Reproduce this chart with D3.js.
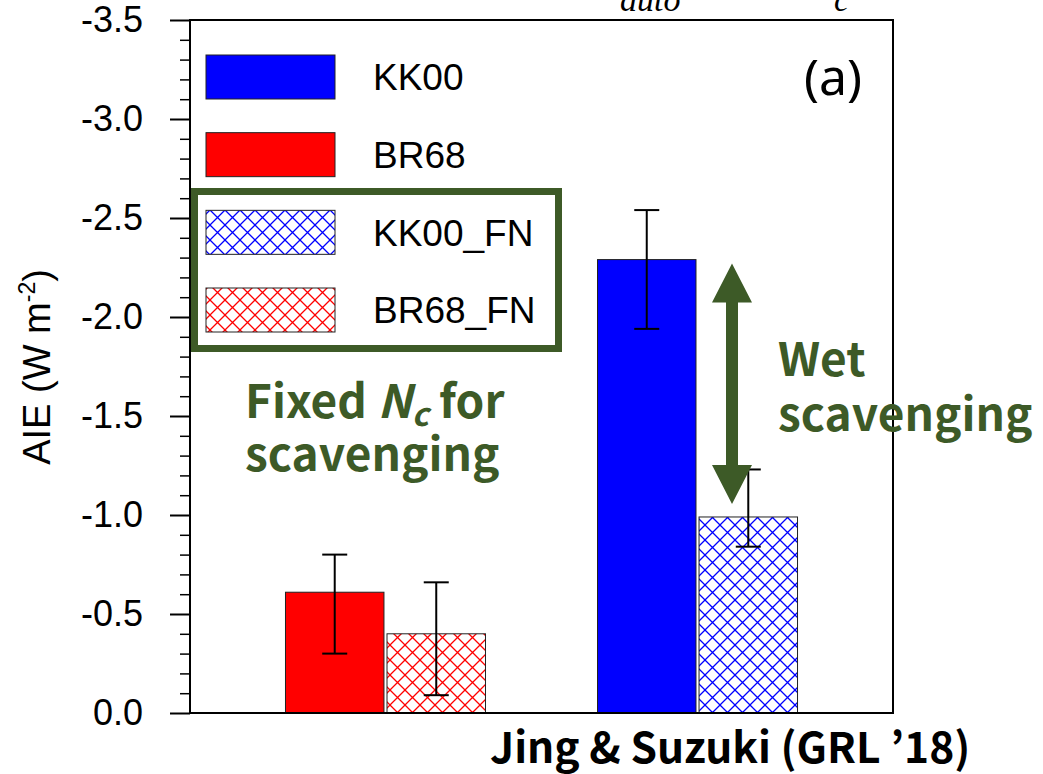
<!DOCTYPE html>
<html>
<head>
<meta charset="utf-8">
<script src="https://cdn.jsdelivr.net/npm/d3@7"></script>
<style>
  html, body { margin: 0; padding: 0; background: #fff; }
  svg { display: block; }
</style>
</head>
<body>
<svg id="chart" width="1043" height="774"></svg>
<script>
// Aerosol indirect effect, two schemes, with and without fixed Nc for scavenging
const groups = ["BR68", "KK00"];
const series = ["ctrl", "FN"];
const ctrlValues = [-0.61, -2.29];
const ctrlErrLow = [-0.30, -1.94];
const ctrlErrHigh = [-0.80, -2.54];
const fnValues = [-0.40, -0.99];
const fnErrLow = [-0.09, -0.84];
const fnErrHigh = [-0.66, -1.23];
const yTicks = [0, -0.5, -1.0, -1.5, -2.0, -2.5, -3.0, -3.5];
const legendNames = ["KK00", "BR68", "KK00_FN", "BR68_FN"];

const colors = { KK00: "#0000ff", BR68: "#ff0000" };
const green = "#3d5a27";

const svg = d3.select("#chart");
const plotL = 190, plotR = 893, plotT = 20, plotB = 713;

const y = d3.scaleLinear().domain([0, -3.5]).range([plotB, plotT]);
const x = d3.scaleBand().domain(groups).range([plotL, plotR])
  .paddingInner(0.359).paddingOuter(0.306);
const xs = d3.scaleBand().domain(series).range([0, x.bandwidth()]).paddingInner(0.03);

// cross-hatch patterns
const defs = svg.append("defs");
const hp = 15;
["KK00", "BR68"].forEach(k => {
  const p = defs.append("pattern").attr("id", "hatch-" + k)
    .attr("patternUnits", "userSpaceOnUse").attr("width", hp).attr("height", hp);
  p.append("rect").attr("width", hp).attr("height", hp).attr("fill", "#fff");
  const h = hp / 2;
  p.append("path").attr("d",
    `M0,0 L${hp},${hp} M${-h},${h} L${h},${hp + h} M${h},${-h} L${hp + h},${h}
     M0,${hp} L${hp},0 M${-h},${h} L${h},${-h} M${h},${hp + h} L${hp + h},${h}`)
    .attr("stroke", colors[k]).attr("stroke-width", 1.3).attr("fill", "none");
});

// partially visible heading above the frame
svg.append("text").attr("x", 620).attr("y", 11)
  .attr("font-family", "Liberation Serif").attr("font-style", "italic").attr("font-size", 34)
  .text("auto");
svg.append("text").attr("x", 834).attr("y", 11)
  .attr("font-family", "Liberation Serif").attr("font-style", "italic").attr("font-size", 34)
  .text("c");

// bars
const rows = [];
groups.forEach((g, i) => {
  rows.push({ g, s: "ctrl", v: ctrlValues[i], lo: ctrlErrLow[i], hi: ctrlErrHigh[i],
    fill: colors[g] });
  rows.push({ g, s: "FN", v: fnValues[i], lo: fnErrLow[i], hi: fnErrHigh[i],
    fill: "url(#hatch-" + g + ")" });
});

svg.append("g").selectAll("rect").data(rows).join("rect")
  .attr("x", d => x(d.g) + xs(d.s))
  .attr("y", d => y(d.v))
  .attr("width", xs.bandwidth())
  .attr("height", d => y(0) - y(d.v))
  .attr("fill", d => d.fill)
  .attr("stroke", "#222").attr("stroke-width", 1);

// error bars
const eb = svg.append("g").attr("stroke", "#000").attr("stroke-width", 2);
rows.forEach(d => {
  const cx = x(d.g) + xs(d.s) + xs.bandwidth() / 2;
  eb.append("line").attr("x1", cx).attr("x2", cx).attr("y1", y(d.hi)).attr("y2", y(d.lo));
  [d.hi, d.lo].forEach(v => eb.append("line")
    .attr("x1", cx - 12.5).attr("x2", cx + 12.5).attr("y1", y(v)).attr("y2", y(v)));
});

// axes and frame
const fmt = d => (Math.abs(d) < 1e-9 ? 0 : d).toFixed(1);
const yAxis = svg.append("g").attr("transform", `translate(${plotL},0)`)
  .call(d3.axisLeft(y).tickValues(yTicks).tickFormat(fmt).tickSize(20).tickPadding(27));
yAxis.select(".domain").remove();
yAxis.selectAll(".tick line").attr("stroke", "#000").attr("stroke-width", 2);
yAxis.selectAll(".tick text").attr("font-family", "Liberation Sans, Arial")
  .attr("font-size", 36).attr("fill", "#000");

const minor = d3.range(1, 35).map(i => -i / 10).filter(v => Math.round(v * 10) % 5 !== 0);
svg.append("g").attr("transform", `translate(${plotL},0)`)
  .call(d3.axisLeft(y).tickValues(minor).tickFormat("").tickSize(10))
  .call(g => g.select(".domain").remove())
  .selectAll("line").attr("stroke", "#000").attr("stroke-width", 1.5);

const frame = svg.append("g").attr("stroke", "#000").attr("stroke-width", 2).attr("fill", "none");
frame.append("path").attr("d", `M${plotL},${plotT} L${plotR},${plotT} L${plotR},${plotB} L${plotL},${plotB} Z`);

// y label
svg.append("text")
  .attr("transform", `translate(50,367) rotate(-90)`)
  .attr("text-anchor", "middle")
  .attr("font-family", "Liberation Sans, Arial").attr("font-size", 38)
  .call(t => {
    t.append("tspan").text("AIE (W m");
    t.append("tspan").attr("dy", -15).attr("font-size", 23).text("-2");
    t.append("tspan").attr("dy", 15).text(")");
  });

// legend
const legY = d3.scalePoint().domain(legendNames).range([77, 310]);
const legFill = { KK00: colors.KK00, BR68: colors.BR68,
  KK00_FN: "url(#hatch-KK00)", BR68_FN: "url(#hatch-BR68)" };
const leg = svg.append("g");
legendNames.forEach(n => {
  leg.append("rect").attr("x", 206).attr("y", legY(n) - 22).attr("width", 129).attr("height", 44)
    .attr("fill", legFill[n]).attr("stroke", "#222").attr("stroke-width", 1);
  leg.append("text").attr("x", 373).attr("y", legY(n)).attr("dy", "0.36em")
    .attr("font-family", "Liberation Sans, Arial").attr("font-size", 37).text(n);
});
leg.append("rect").attr("x", 194.5).attr("y", 191.5).attr("width", 364).attr("height", 157)
  .attr("fill", "none").attr("stroke", green).attr("stroke-width", 7);

// panel tag
svg.append("text").attr("x", 804).attr("y", 95)
  .attr("font-family", "Noto Sans").attr("font-size", 50).text("(a)");

// annotations
const jp = "Noto Sans CJK JP";
const a1 = svg.append("text").attr("font-family", jp).attr("font-weight", 700)
  .attr("font-size", 46).attr("fill", green);
a1.append("tspan").attr("x", 245).attr("y", 418).text("Fixed ");
a1.append("tspan").attr("font-style", "italic").text("N");
a1.append("tspan").attr("font-style", "italic").attr("font-size", 32).attr("dy", 8).text("c");
a1.append("tspan").attr("dy", -8).text(" for");
a1.append("tspan").attr("x", 245).attr("y", 471).text("scavenging");

const a2 = svg.append("text").attr("font-family", jp).attr("font-weight", 700)
  .attr("font-size", 46).attr("fill", green);
a2.append("tspan").attr("x", 778).attr("y", 376).text("Wet");
a2.append("tspan").attr("x", 778).attr("y", 431).text("scavenging");

// double-headed arrow between KK00 and KK00_FN
const ax = 732, ay1 = y(ctrlValues[1]) + 4, ay2 = y(fnValues[1]) - 13;
const hw = 20, hl = 39, sw = 6;
svg.append("path").attr("fill", green).attr("d",
  `M${ax},${ay1} L${ax + hw},${ay1 + hl} L${ax + sw},${ay1 + hl} L${ax + sw},${ay2 - hl}
   L${ax + hw},${ay2 - hl} L${ax},${ay2} L${ax - hw},${ay2 - hl} L${ax - sw},${ay2 - hl}
   L${ax - sw},${ay1 + hl} L${ax - hw},${ay1 + hl} Z`);

// citation
svg.append("text").attr("x", 490).attr("y", 763)
  .attr("font-family", jp).attr("font-weight", 700).attr("font-size", 42.5)
  .text("Jing & Suzuki (GRL ’18)");
</script>
</body>
</html>
